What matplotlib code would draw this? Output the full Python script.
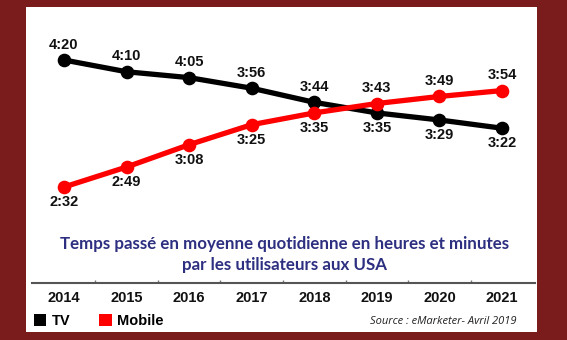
import matplotlib
matplotlib.use("Agg")
import matplotlib.pyplot as plt
from matplotlib.patches import Rectangle, Patch

years = [2014, 2015, 2016, 2017, 2018, 2019, 2020, 2021]
tv_minutes = [260, 250, 245, 236, 224, 215, 209, 202]
mobile_minutes = [152, 169, 188, 205, 215, 223, 229, 234]
series_names = ["TV", "Mobile"]
title_text = "Temps passé en moyenne quotidienne en heures et minutes\npar les utilisateurs aux USA"
source_text = "Source : eMarketer- Avril 2019"

BG = "#7a1c1c"
RED = "#ff0000"
BLUE = "#2d2f80"

W, H = 567, 340
fig = plt.figure(figsize=(W / 100, H / 100), dpi=100, facecolor=BG)

# white panel
fig.add_artist(Rectangle((26 / W, (H - 332) / H), (537 - 26) / W, (332 - 7) / H,
                         transform=fig.transFigure, facecolor="white", edgecolor="none", zorder=0))

ax = fig.add_axes([32 / W, (H - 283) / H, 503 / W, 275 / H])
ax.set_facecolor("none")
ax.set_xlim(2013.489, 2021.527)
ax.set_ylim(70.4, 304.2)

ax.plot(years, tv_minutes, color="black", lw=3.8, marker="o", ms=8.8, zorder=3, solid_capstyle="round")
ax.plot(years, mobile_minutes, color=RED, lw=3.8, marker="o", ms=8.8, zorder=4, solid_capstyle="round")

def fmt(m):
    return f"{m // 60}:{m % 60:02d}"

for x, t, m in zip(years, tv_minutes, mobile_minutes):
    t_off = 11 if t >= m else -11
    m_off = -t_off
    ax.annotate(fmt(t), (x, t), xytext=(0, t_off), textcoords="offset points",
                ha="center", va="center", fontsize=10.5, fontweight="bold",
                family="Liberation Sans", color="#111111", zorder=5)
    ax.annotate(fmt(m), (x, m), xytext=(0, m_off), textcoords="offset points",
                ha="center", va="center", fontsize=10.5, fontweight="bold",
                family="Liberation Sans", color="#111111", zorder=5)

for s in ["top", "right", "left"]:
    ax.spines[s].set_visible(False)
ax.spines["bottom"].set_color("#555555")
ax.spines["bottom"].set_linewidth(1.5)
ax.set_yticks([])
ax.set_xticks(years)
ax.set_xticklabels([str(y) for y in years], fontsize=10.5, fontweight="bold",
                   family="Liberation Sans", color="#111111")
ax.tick_params(axis="x", which="major", length=0, pad=6)
ax.set_xticks([y + 0.5 for y in years[:-1]], minor=True)
ax.tick_params(axis="x", which="minor", length=2.5, direction="in", color="#777777", width=1)

fig.text(285 / W, 1 - 254.5 / H, title_text, ha="center", va="center", fontsize=12.2,
         fontweight="bold", family="Lato", color=BLUE, linespacing=1.35)

handles = [Patch(facecolor="black", edgecolor="none"), Patch(facecolor=RED, edgecolor="none")]
fig.legend(handles, series_names, loc="center left", bbox_to_anchor=(34 / W, 1 - 321 / H),
           ncol=2, frameon=False, handlelength=0.85, handleheight=0.85, handletextpad=0.35,
           columnspacing=2.0, prop={"family": "Liberation Sans", "weight": "bold", "size": 10.5},
           borderaxespad=0, borderpad=0)

fig.text(517 / W, 1 - 321 / H, source_text, ha="right", va="center", fontsize=8,
         style="italic", family="Open Sans", color="#222222")

fig.savefig("out.png", dpi=100, facecolor=BG)
